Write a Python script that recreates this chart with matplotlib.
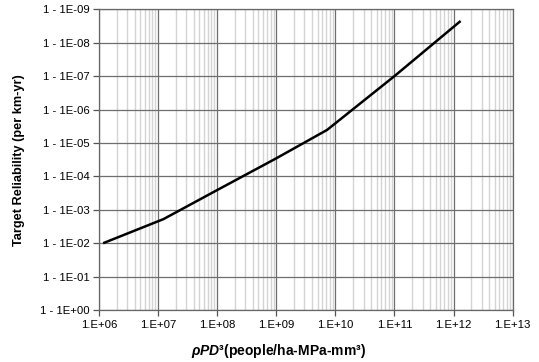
import numpy as np
import matplotlib.pyplot as plt
from matplotlib.ticker import FixedLocator, FuncFormatter, NullLocator

plt.rcParams['font.family'] = ['Liberation Sans', 'DejaVu Sans']
plt.rcParams['mathtext.fontset'] = 'custom'
plt.rcParams['mathtext.rm'] = 'Liberation Sans:bold'
plt.rcParams['mathtext.it'] = 'Liberation Sans:italic:bold'
plt.rcParams['mathtext.bf'] = 'Liberation Sans:bold'

# curve (log10 values)
log_x = [6.07, 7.09, 8.0, 9.0, 9.86, 11.0, 12.12]
log_pf = [-2.0, -2.72, -3.59, -4.54, -5.39, -7.0, -8.65]

x = 10.0 ** np.array(log_x)
pf = 10.0 ** np.array(log_pf)

x_decades = [1e6, 1e7, 1e8, 1e9, 1e10, 1e11, 1e12, 1e13]
y_decades = [1e0, 1e-1, 1e-2, 1e-3, 1e-4, 1e-5, 1e-6, 1e-7, 1e-8, 1e-9]

fig = plt.figure(figsize=(5.39, 3.62), dpi=100)
ax = fig.add_axes([0.1837, 0.1436, 0.7673, 0.8307])

ax.set_xscale('log')
ax.set_yscale('log')
ax.set_xlim(1e6, 1e13)
ax.set_ylim(1e0, 1e-9)

# gridlines: light minor lines on x, darker decades
ax.xaxis.set_major_locator(FixedLocator(x_decades))
minor_x = [m * d for d in x_decades[:-1] for m in range(2, 10)]
ax.xaxis.set_minor_locator(FixedLocator(minor_x))
ax.yaxis.set_major_locator(FixedLocator(y_decades))
ax.yaxis.set_minor_locator(NullLocator())
ax.grid(which='minor', axis='x', color='#d4d4d4', lw=1.0)
ax.grid(which='major', color='#6e6e6e', lw=0.9)
ax.set_axisbelow(True)

ax.plot(x, pf, color='black', lw=1.8, solid_capstyle='butt')

ax.xaxis.set_major_formatter(FuncFormatter(lambda v, p: '1.E+%02d' % round(np.log10(v))))
ax.yaxis.set_major_formatter(FuncFormatter(lambda v, p: '1 - 1E%s%02d' % ('-' if np.log10(v) < -0.5 else '+', abs(round(np.log10(v))))))
ax.tick_params(which='major', direction='out', length=4, width=0.9, color='#555555', labelsize=8.2, pad=3)
ax.tick_params(which='minor', length=0)
for s in ax.spines.values():
    s.set_color('#666666')
    s.set_linewidth(0.9)

ax.set_ylabel('Target Reliability (per km-yr)', fontsize=9.2, fontweight='bold')
ax.yaxis.set_label_coords(-0.180, 0.5)
ax.set_xlabel(r'$\rho\mathit{PD}$³(people/ha-MPa-mm³)', fontsize=10, fontweight='bold')
ax.xaxis.set_label_coords(0.434, -0.105)

fig.savefig('out.png', dpi=100)
